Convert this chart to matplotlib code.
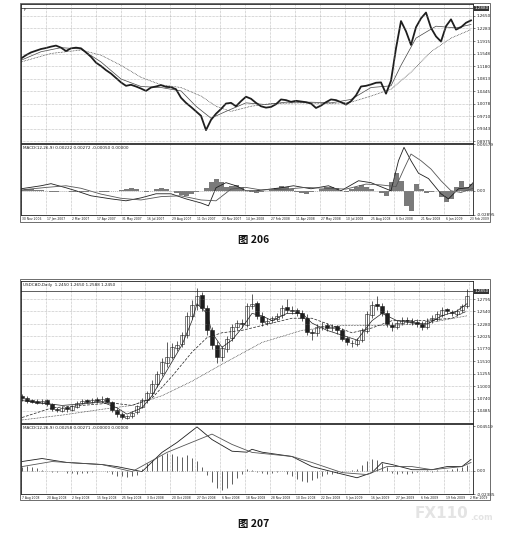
import numpy as np
import matplotlib
matplotlib.use("Agg")
import matplotlib.pyplot as plt
import matplotlib.transforms as mtransforms

W, H = 522, 548

# ---------------- chart 206 (line chart, USDCAD daily Nov 2006 - Feb 2009) ----------------
close1 = [1.140, 1.150, 1.158, 1.163, 1.168, 1.171, 1.175, 1.178, 1.172, 1.162,
          1.170, 1.172, 1.170, 1.158, 1.145, 1.128, 1.118, 1.106, 1.096, 1.083,
          1.070, 1.060, 1.063, 1.058, 1.052, 1.045, 1.055, 1.058, 1.062, 1.057,
          1.056, 1.050, 1.025, 1.010, 0.998, 0.985, 0.972, 0.930, 0.960, 0.978,
          0.992, 1.008, 1.010, 1.000, 1.015, 1.028, 1.022, 1.010, 1.000, 0.996,
          0.998, 1.006, 1.020, 1.018, 1.013, 1.016, 1.014, 1.012, 1.008, 0.995,
          1.002, 1.012, 1.020, 1.018, 1.012, 1.005, 1.015, 1.032, 1.058, 1.060,
          1.064, 1.069, 1.070, 1.037, 1.075, 1.170, 1.250, 1.220, 1.180, 1.232,
          1.258, 1.275, 1.230, 1.205, 1.190, 1.235, 1.255, 1.225, 1.232, 1.245,
          1.252]
ma1_fast_x = [0, 4, 8, 12, 16, 20, 24, 28, 32, 35, 38, 41, 45, 49, 53, 58, 62, 66, 70, 74, 76, 79, 83, 87, 90]
ma1_fast = [1.135, 1.160, 1.172, 1.168, 1.130, 1.080, 1.058, 1.055, 1.045, 1.000, 0.965, 0.985, 1.010,
            1.005, 1.012, 1.012, 1.010, 1.020, 1.055, 1.060, 1.120, 1.200, 1.235, 1.230, 1.240]
ma1_slow_x = [0, 6, 12, 16, 20, 24, 28, 32, 36, 39, 42, 46, 50, 56, 62, 66, 70, 74, 78, 82, 86, 90]
ma1_slow = [1.130, 1.155, 1.165, 1.150, 1.120, 1.085, 1.063, 1.055, 1.030, 1.000, 0.985, 1.000,
            1.008, 1.010, 1.008, 1.012, 1.030, 1.050, 1.100, 1.160, 1.200, 1.225]
macd1_x = [0, 4, 6, 9, 11, 14, 18, 21, 24, 27, 30, 33, 36, 37.5, 39, 41, 43, 45, 47, 52, 54.5, 58,
           61.5, 64, 67.5, 70, 72.5, 74, 75.5, 76.6, 78, 79.5, 81.5, 84, 85.5, 87.5, 89.5, 90.4]
macd1_main = [0.0024, 0.0060, 0.0085, 0.0036, 0.0000, -0.0060, -0.0097, -0.0120, -0.0085, -0.0036,
              -0.0036, -0.0097, -0.0146, -0.0180, 0.0036, 0.0097, 0.0060, 0.0000, 0.0000, 0.0036,
              0.0060, 0.0024, 0.0060, 0.0000, 0.0120, 0.0097, 0.0036, 0.0000, 0.0360, 0.0520,
              0.0360, 0.0210, 0.0146, -0.0036, -0.0097, 0.0024, 0.0036, 0.0097]
macd1_sig_x = [0, 5, 9, 12, 16, 20, 24, 28, 32, 36, 39, 42, 45, 48, 53, 57, 61, 65, 69, 72,
               75, 76.5, 78, 80, 82, 84, 86, 88, 90.4]
macd1_sig = [0.0010, 0.0040, 0.0060, 0.0030, -0.0040, -0.0090, -0.0110, -0.0070, -0.0060, -0.0110,
             -0.0120, 0.0020, 0.0040, 0.0010, 0.0020, 0.0040, 0.0030, 0.0020, 0.0080, 0.0070,
             0.0050, 0.0250, 0.0440, 0.0360, 0.0260, 0.0120, 0.0000, -0.0020, 0.0030]
hist1 = [0.001, 0.002, 0.002, 0.001, 0.001, 0.000, -0.001, -0.001, 0.000, 0.000,
         -0.001, -0.002, -0.002, -0.001, 0.000, 0.000, -0.001, -0.001, 0.000, 0.000,
         0.001, 0.002, 0.003, 0.002, 0.000, -0.001, 0.000, 0.002, 0.003, 0.002,
         0.000, -0.003, -0.005, -0.006, -0.004, -0.002, 0.000, 0.003, 0.010, 0.014,
         0.010, 0.005, 0.006, 0.007, 0.004, 0.000, -0.002, -0.003, -0.001, 0.000,
         0.001, 0.003, 0.006, 0.005, 0.002, -0.001, -0.003, -0.004, -0.002, 0.000,
         0.002, 0.004, 0.005, 0.003, 0.000, -0.001, 0.002, 0.005, 0.007, 0.005,
         0.002, 0.000, -0.003, -0.006, 0.010, 0.021, 0.012, -0.018, -0.024, 0.008,
         0.002, -0.003, -0.002, 0.000, -0.008, -0.014, -0.010, 0.004, 0.012, 0.005,
         0.008]
dates1 = ["30 Nov 2006", "17 Jan 2007", "2 Mar 2007", "17 Apr 2007", "31 May 2007", "16 Jul 2007",
          "29 Aug 2007", "11 Oct 2007", "23 Nov 2007", "14 Jan 2008", "27 Feb 2008", "11 Apr 2008",
          "27 May 2008", "10 Jul 2008", "25 Aug 2008", "6 Oct 2008", "21 Nov 2008", "6 Jan 2009",
          "23 Feb 2009"]
yt1 = [0.8975, 0.9343, 0.9710, 1.0078, 1.0445, 1.0813, 1.1180, 1.1548, 1.1915, 1.2283, 1.2650]

# ---------------- chart 207 (candles, USDCAD daily Aug 2008 - Mar 2009) ----------------
open2 = [1.080, 1.076, 1.071, 1.069, 1.065, 1.071, 1.063, 1.053, 1.049, 1.056,
         1.051, 1.057, 1.066, 1.071, 1.067, 1.073, 1.069, 1.075, 1.067, 1.051,
         1.043, 1.035, 1.039, 1.046, 1.057, 1.071, 1.086, 1.104, 1.126, 1.148,
         1.161, 1.178, 1.186, 1.206, 1.244, 1.267, 1.287, 1.261, 1.216, 1.184,
         1.159, 1.177, 1.199, 1.221, 1.231, 1.227, 1.266, 1.271, 1.244, 1.231,
         1.236, 1.239, 1.246, 1.263, 1.257, 1.256, 1.251, 1.241, 1.211, 1.209,
         1.223, 1.226, 1.219, 1.223, 1.216, 1.199, 1.189, 1.187, 1.196, 1.214,
         1.247, 1.269, 1.266, 1.251, 1.227, 1.221, 1.231, 1.237, 1.234, 1.233,
         1.229, 1.221, 1.236, 1.239, 1.247, 1.259, 1.253, 1.249, 1.256, 1.266]
high2 = [1.084, 1.079, 1.074, 1.073, 1.074, 1.074, 1.066, 1.056, 1.058, 1.058,
         1.061, 1.069, 1.074, 1.073, 1.076, 1.077, 1.079, 1.078, 1.070, 1.054,
         1.046, 1.041, 1.048, 1.061, 1.076, 1.090, 1.112, 1.132, 1.158, 1.190,
         1.188, 1.192, 1.212, 1.252, 1.278, 1.302, 1.295, 1.268, 1.222, 1.192,
         1.182, 1.204, 1.228, 1.236, 1.238, 1.272, 1.290, 1.276, 1.252, 1.240,
         1.244, 1.250, 1.268, 1.280, 1.265, 1.262, 1.256, 1.248, 1.218, 1.228,
         1.232, 1.230, 1.228, 1.226, 1.220, 1.204, 1.196, 1.200, 1.220, 1.255,
         1.275, 1.285, 1.272, 1.256, 1.232, 1.236, 1.242, 1.242, 1.240, 1.238,
         1.234, 1.240, 1.246, 1.254, 1.264, 1.262, 1.258, 1.260, 1.270, 1.300]
low2 = [1.070, 1.066, 1.064, 1.062, 1.062, 1.058, 1.048, 1.046, 1.046, 1.047,
        1.048, 1.054, 1.062, 1.064, 1.064, 1.066, 1.066, 1.064, 1.046, 1.036,
        1.031, 1.032, 1.035, 1.042, 1.054, 1.066, 1.080, 1.098, 1.120, 1.140,
        1.155, 1.172, 1.180, 1.200, 1.238, 1.258, 1.255, 1.205, 1.176, 1.148,
        1.152, 1.170, 1.192, 1.215, 1.220, 1.222, 1.260, 1.238, 1.225, 1.226,
        1.230, 1.234, 1.240, 1.250, 1.248, 1.244, 1.234, 1.205, 1.195, 1.204,
        1.216, 1.214, 1.214, 1.208, 1.192, 1.184, 1.180, 1.183, 1.190, 1.210,
        1.240, 1.258, 1.245, 1.222, 1.214, 1.218, 1.226, 1.228, 1.226, 1.222,
        1.215, 1.218, 1.230, 1.234, 1.243, 1.248, 1.244, 1.245, 1.250, 1.262]
close2 = [1.075, 1.070, 1.068, 1.066, 1.070, 1.062, 1.052, 1.050, 1.055, 1.052,
          1.058, 1.066, 1.070, 1.068, 1.072, 1.070, 1.074, 1.068, 1.050, 1.042,
          1.036, 1.038, 1.045, 1.058, 1.072, 1.085, 1.105, 1.125, 1.150, 1.160,
          1.180, 1.185, 1.205, 1.245, 1.268, 1.285, 1.262, 1.215, 1.185, 1.160,
          1.178, 1.198, 1.222, 1.230, 1.228, 1.265, 1.270, 1.245, 1.232, 1.235,
          1.240, 1.245, 1.262, 1.258, 1.255, 1.250, 1.240, 1.212, 1.210, 1.222,
          1.225, 1.220, 1.222, 1.215, 1.198, 1.190, 1.188, 1.195, 1.215, 1.248,
          1.268, 1.265, 1.250, 1.228, 1.222, 1.230, 1.236, 1.235, 1.232, 1.228,
          1.222, 1.235, 1.240, 1.248, 1.258, 1.254, 1.250, 1.255, 1.265, 1.285]
ma2_fast_x = [0, 4, 8, 12, 16, 19, 21, 24, 26, 28, 30, 32, 34, 35, 37, 38, 40, 42, 44, 46, 48, 50,
              53, 56, 58, 61, 64, 67, 70, 72, 75, 78, 81, 84, 87, 89]
ma2_fast = [1.070, 1.065, 1.060, 1.063, 1.067, 1.055, 1.042, 1.055, 1.080, 1.115, 1.150, 1.185,
            1.235, 1.270, 1.250, 1.210, 1.180, 1.195, 1.220, 1.250, 1.245, 1.235, 1.250, 1.250,
            1.230, 1.215, 1.205, 1.195, 1.235, 1.250, 1.235, 1.230, 1.228, 1.245, 1.255, 1.270]
ma2_mid_x = [0, 6, 12, 18, 22, 26, 30, 34, 37, 40, 44, 48, 54, 58, 62, 66, 70, 74, 80, 86, 89]
ma2_mid = [1.035, 1.055, 1.060, 1.065, 1.060, 1.075, 1.120, 1.170, 1.200, 1.210, 1.215, 1.225,
           1.240, 1.240, 1.225, 1.210, 1.220, 1.235, 1.235, 1.240, 1.255]
ma2_slow_x = [0, 8, 16, 22, 28, 34, 40, 48, 56, 64, 72, 80, 89]
ma2_slow = [1.030, 1.040, 1.052, 1.060, 1.080, 1.110, 1.145, 1.190, 1.215, 1.225, 1.225, 1.228, 1.245]
macd2_x = [0, 4, 9, 16, 19, 24, 28, 31, 35, 38, 42, 45, 46, 48, 54, 58, 62, 67, 70, 72, 74, 78, 82, 85, 88, 89.8]
macd2_main = [0.0094, 0.0125, 0.0084, 0.0063, 0.0042, -0.0010, 0.0188, 0.0290, 0.0450, 0.0320,
              0.0200, 0.0190, 0.0220, 0.0190, 0.0146, 0.0042, -0.0010, -0.0073, -0.0020, 0.0084,
              0.0063, 0.0010, 0.0010, 0.0042, 0.0042, 0.0115]
macd2_sig_x = [0, 6, 16, 22, 29, 38, 42, 46, 54, 58, 64, 69, 73, 78, 82, 88, 89.8]
macd2_sig = [0.0042, 0.0094, 0.0063, -0.0010, 0.0188, 0.0376, 0.0270, 0.0188, 0.0146, 0.0084,
             -0.0020, -0.0040, 0.0042, 0.0042, 0.0010, 0.0042, 0.0084]
hist2 = [0.004, 0.005, 0.004, 0.003, 0.001, 0.000, -0.001, -0.001, 0.000, -0.002,
         -0.002, -0.003, -0.002, -0.002, -0.001, 0.000, 0.000, -0.001, -0.003, -0.005,
         -0.006, -0.007, -0.006, -0.004, 0.002, 0.008, 0.011, 0.014, 0.016, 0.018,
         0.017, 0.015, 0.014, 0.016, 0.013, 0.010, 0.004, -0.004, -0.012, -0.018,
         -0.020, -0.018, -0.014, -0.008, -0.003, 0.002, 0.001, -0.001, -0.002, -0.003,
         -0.002, -0.001, 0.000, -0.003, -0.006, -0.009, -0.011, -0.012, -0.010, -0.008,
         -0.005, -0.003, -0.003, -0.002, -0.001, 0.000, 0.001, 0.002, 0.006, 0.010,
         0.012, 0.011, 0.008, 0.004, -0.002, -0.003, -0.002, -0.003, -0.002, -0.001,
         0.000, 0.001, -0.001, 0.001, 0.000, 0.001, 0.002, 0.003, 0.004, 0.006]
dates2 = ["7 Aug 2008", "20 Aug 2008", "2 Sep 2008", "15 Sep 2008", "25 Sep 2008", "3 Oct 2008",
          "20 Oct 2008", "27 Oct 2008", "6 Nov 2008", "18 Nov 2008", "28 Nov 2008", "10 Dec 2008",
          "22 Dec 2008", "5 Jan 2009", "16 Jan 2009", "27 Jan 2009", "6 Feb 2009", "19 Feb 2009",
          "2 Mar 2009"]
yt2 = [1.0485, 1.0740, 1.1000, 1.1255, 1.1510, 1.1770, 1.2025, 1.2280, 1.2540, 1.2795]

INK = "#1e1e1e"
GRID = "#8a8a8a"
FS = 3.0
DFS = 2.2


def px_box(l, t, r, b):
    return [l / W, 1 - b / H, (r - l) / W, (b - t) / H]


def style_ax(ax):
    for s in ax.spines.values():
        s.set_color(INK)
        s.set_linewidth(0.6)
    ax.tick_params(axis="x", bottom=False, labelbottom=False)
    ax.yaxis.tick_right()
    ax.tick_params(axis="y", length=1.5, width=0.4, labelsize=FS, pad=1, colors=INK)


fig = plt.figure(figsize=(W / 100, H / 100), dpi=100)
fig.patch.set_facecolor("white")


def draw_frame(l, t, r, b):
    fig.add_artist(plt.Rectangle((l / W, 1 - b / H), (r - l) / W, (b - t) / H,
                                 transform=fig.transFigure, fill=False, lw=0.6, ec="#555555"))


# ---------- chart 206 ----------
draw_frame(20, 3, 490, 222)
ax1 = fig.add_axes(px_box(21, 4, 473, 143))
m1 = fig.add_axes(px_box(21, 144, 473, 215))
x1 = np.arange(len(close1))
xt1 = np.linspace(0, 89.6, len(dates1))

ax1.plot(ma1_slow_x, ma1_slow, color=INK, lw=0.5, ls=(0, (1, 1.2)))
ax1.plot(ma1_fast_x, ma1_fast, color="#444444", lw=0.5)
ax1.plot(x1, close1, color=INK, lw=1.3)
ax1.axhline(1.2880, color=INK, lw=0.5)
ax1.set_xlim(0, 90.4)
ax1.set_ylim(0.8922, 1.3001)
ax1.set_yticks(yt1)
ax1.set_yticklabels([f"{v:.4f}" for v in yt1])
for v in yt1:
    ax1.axhline(v, color=GRID, lw=0.4, ls=(0, (1, 1.5)))
for xv in xt1:
    ax1.axvline(xv, color=GRID, lw=0.4, ls=(0, (1, 1.5)))
style_ax(ax1)
tr = mtransforms.blended_transform_factory(ax1.transAxes, ax1.transData)
ax1.text(1.004, 1.2880, "1.2880", transform=tr, fontsize=FS, color="white", va="center",
         bbox=dict(boxstyle="square,pad=0.1", fc="#333333", ec="none"))
ax1.text(0.005, 0.96, "F", transform=ax1.transAxes, fontsize=FS, color=INK, va="center")

m1.bar(x1, hist1, width=1.0, color="#7a7a7a", edgecolor="none")
m1.plot(macd1_x, macd1_main, color=INK, lw=0.6)
m1.plot(macd1_sig_x, macd1_sig, color="#555555", lw=0.6)
m1.axhline(0, color=GRID, lw=0.4, ls=(0, (2, 1.5)))
for xv in xt1:
    m1.axvline(xv, color=GRID, lw=0.4, ls=(0, (1, 1.5)))
m1.set_xlim(0, 90.4)
m1.set_ylim(-0.029, 0.056)
m1.set_yticks([-0.029, 0.0, 0.0555])
m1.set_yticklabels(["-0.02895", "0.00", "0.05579"])
style_ax(m1)
m1.text(0.005, 0.94, "MACD(12,26,9) 0.00222 0.00272 -0.00050 0.00000", transform=m1.transAxes,
        fontsize=FS, color=INK, va="center")
for xv, lab in zip(xt1, dates1):
    m1.text(xv + 0.3, -0.025, lab, transform=m1.get_xaxis_transform(), fontsize=DFS,
            color=INK, ha="left", va="top")

fig.text(254 / W, 1 - 240 / H, "图 206", fontsize=7.5, fontweight="bold",
         family=["Noto Sans CJK SC", "DejaVu Sans"], ha="center", va="center", color="#111111")

# ---------- chart 207 ----------
draw_frame(20, 279, 490, 500)
ax2 = fig.add_axes(px_box(21, 281, 473, 423))
m2 = fig.add_axes(px_box(21, 424, 473, 494))
x2 = np.arange(len(close2))
xt2 = np.linspace(-0.2, 89.4, len(dates2))

for v in yt2:
    ax2.axhline(v, color=GRID, lw=0.4, ls=(0, (1, 1.5)))
for xv in xt2:
    ax2.axvline(xv, color=GRID, lw=0.4, ls=(0, (1, 1.5)))
o2 = np.array(open2)
c2 = np.array(close2)
ax2.vlines(x2, low2, high2, color=INK, lw=0.5)
body_lo = np.minimum(o2, c2)
body_h = np.abs(c2 - o2)
up = c2 >= o2
ax2.bar(x2[up], body_h[up], bottom=body_lo[up], width=0.7, color="white", edgecolor=INK, lw=0.4)
ax2.bar(x2[~up], body_h[~up], bottom=body_lo[~up], width=0.7, color=INK, edgecolor=INK, lw=0.4)
ax2.plot(ma2_slow_x, ma2_slow, color=INK, lw=0.5, ls=(0, (1, 1.2)))
ax2.plot(ma2_mid_x, ma2_mid, color=INK, lw=0.5, ls=(0, (4, 2)))
ax2.plot(ma2_fast_x, ma2_fast, color=INK, lw=0.5)
ax2.axhline(1.2955, color=INK, lw=0.5)
ax2.set_xlim(-0.2, 90.2)
ax2.set_ylim(1.0237, 1.3169)
ax2.set_yticks(yt2)
ax2.set_yticklabels([f"{v:.4f}" for v in yt2])
style_ax(ax2)
tr2 = mtransforms.blended_transform_factory(ax2.transAxes, ax2.transData)
ax2.text(1.004, 1.2955, "1.2850", transform=tr2, fontsize=FS, color="white", va="center",
         bbox=dict(boxstyle="square,pad=0.1", fc="#333333", ec="none"))
ax2.text(0.005, 0.97, "USDCAD,Daily  1.2450 1.2650 1.2588 1.2450", transform=ax2.transAxes,
         fontsize=FS, color=INK, va="center")

m2.vlines(x2, 0, hist2, color=INK, lw=0.5)
m2.plot(macd2_x, macd2_main, color=INK, lw=0.6)
m2.plot(macd2_sig_x, macd2_sig, color="#555555", lw=0.6)
m2.axhline(0, color=GRID, lw=0.4, ls=(0, (2, 1.5)))
for xv in xt2:
    m2.axvline(xv, color=GRID, lw=0.4, ls=(0, (1, 1.5)))
m2.set_xlim(-0.2, 90.2)
m2.set_ylim(-0.024, 0.048)
m2.set_yticks([-0.024, 0.0, 0.0455])
m2.set_yticklabels(["-0.02385", "0.00", "0.04519"])
style_ax(m2)
m2.text(0.005, 0.94, "MACD(12,26,9) 0.00258 0.00271 -0.00000 0.00000", transform=m2.transAxes,
        fontsize=FS, color=INK, va="center")
for xv, lab in zip(xt2, dates2):
    m2.text(xv + 0.3, -0.025, lab, transform=m2.get_xaxis_transform(), fontsize=DFS,
            color=INK, ha="left", va="top")

fig.text(254 / W, 1 - 524 / H, "图 207", fontsize=7.5, fontweight="bold",
         family=["Noto Sans CJK SC", "DejaVu Sans"], ha="center", va="center", color="#111111")

# watermark
fig.text(441 / W, 1 - 514 / H, "FX110", fontsize=11, fontweight="bold", color="#e4e4e4",
         ha="center", va="center")
fig.text(470 / W, 1 - 517 / H, ".com", fontsize=6, fontweight="bold", color="#e4e4e4",
         ha="left", va="center")

fig.savefig("out.png", dpi=100)
